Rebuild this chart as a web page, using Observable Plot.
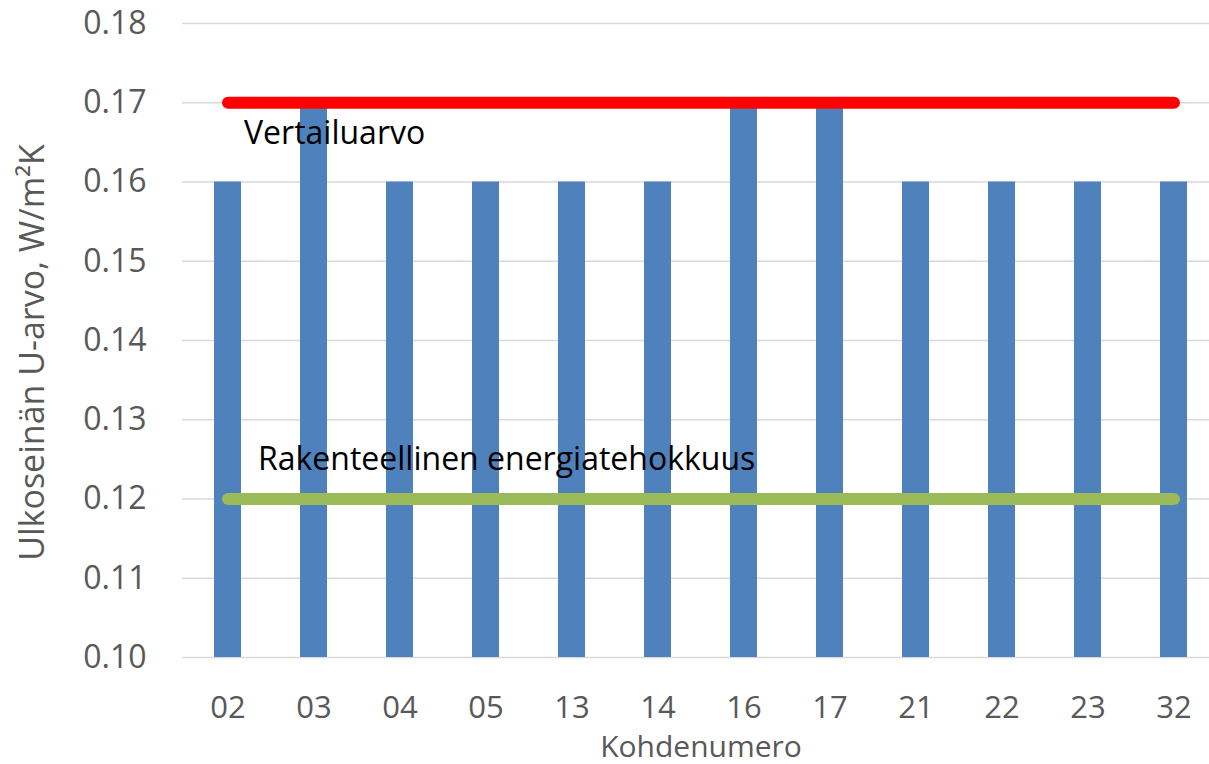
<!DOCTYPE html>
<html>
<head>
<meta charset="utf-8">
<script src="https://cdn.jsdelivr.net/npm/d3@7"></script>
<script src="https://cdn.jsdelivr.net/npm/@observablehq/plot@0.6"></script>
<style>
  html, body { margin: 0; padding: 0; background: #fff; overflow: hidden; }
  #chart svg { display: block; }
</style>
</head>
<body>
<div id="chart"></div>
<script>
// ---- data ----
const categories = ["02", "03", "04", "05", "13", "14", "16", "17", "21", "22", "23", "32"];
const uValues = [0.16, 0.17, 0.16, 0.16, 0.16, 0.16, 0.17, 0.17, 0.16, 0.16, 0.16, 0.16];
const yDomain = [0.10, 0.18];
const yTicks = [0.10, 0.11, 0.12, 0.13, 0.14, 0.15, 0.16, 0.17, 0.18];
const referenceValue = 0.17;            // Vertailuarvo
const referenceLabel = "Vertailuarvo";
const efficiencyValue = 0.12;           // Rakenteellinen energiatehokkuus
const efficiencyLabel = "Rakenteellinen energiatehokkuus";
const xLabel = "Kohdenumero";
const yLabel = "Ulkoseinän U-arvo, W/m²K";

const bars = categories.map((c, i) => ({ kohde: c, u: uValues[i] }));
const refLine = [categories[0], categories[categories.length - 1]].map(c => ({ kohde: c, u: referenceValue }));
const effLine = [categories[0], categories[categories.length - 1]].map(c => ({ kohde: c, u: efficiencyValue }));

const font = "'Open Sans', 'Noto Sans', sans-serif";
const grey = "#595959";

const chart = Plot.plot({
  width: 1209,
  height: 764,
  marginLeft: 182,
  marginRight: -10,
  marginTop: 23,
  marginBottom: 107,
  style: { fontFamily: font, background: "#fff", overflow: "hidden" },
  x: { domain: categories, paddingInner: 0.6875, paddingOuter: 0.34375, label: null },
  y: { domain: yDomain, label: null },
  marks: [
    Plot.ruleY(yTicks, { stroke: "#D9D9D9", strokeWidth: 1.5 }),
    Plot.barY(bars, { x: "kohde", y1: yDomain[0], y2: "u", fill: "#4F81BD" }),
    Plot.line(refLine, { x: "kohde", y: "u", stroke: "#FF0000", strokeWidth: 12, strokeLinecap: "round" }),
    Plot.line(effLine, { x: "kohde", y: "u", stroke: "#9BBB59", strokeWidth: 12, strokeLinecap: "round" }),
    Plot.text([referenceLabel], { x: () => categories[0], y: () => referenceValue, text: d => d, textAnchor: "start", dx: 16, dy: 31, fontSize: 32, fill: "#000" }),
    Plot.text([efficiencyLabel], { x: () => categories[0], y: () => efficiencyValue, text: d => d, textAnchor: "start", dx: 30, dy: -39, fontSize: 32, fill: "#000" }),
    Plot.axisY({ ticks: yTicks, tickFormat: d3.format(".2f"), tickSize: 0, tickPadding: 36, fontSize: 32, color: grey, label: null }),
    Plot.axisX({ tickSize: 0, tickPadding: 38, fontSize: 31, color: grey, label: null }),
    Plot.text([xLabel], { frameAnchor: "bottom", text: d => d, dy: 99, fontSize: 30, fill: grey }),
    Plot.text([yLabel], { frameAnchor: "left", text: d => d, rotate: -90, textAnchor: "middle", lineAnchor: "middle", dx: -149, dy: 12, fontSize: 34, fill: grey })
  ]
});
document.getElementById("chart").appendChild(chart);
</script>
</body>
</html>
